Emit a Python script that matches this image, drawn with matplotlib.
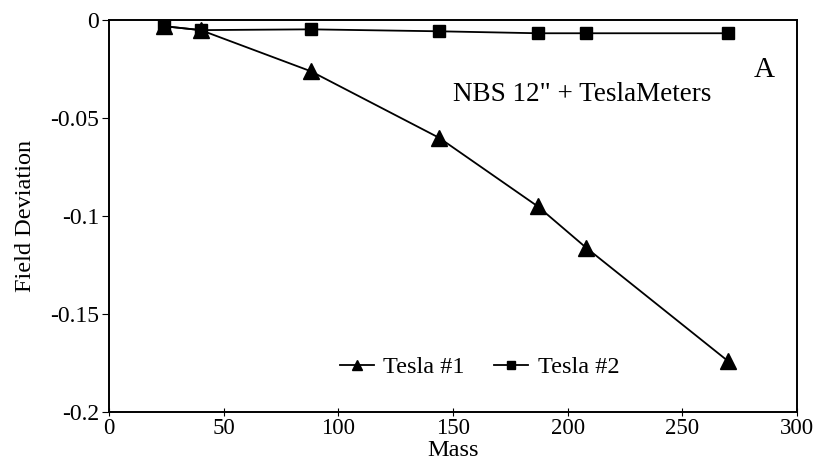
import matplotlib
matplotlib.use("Agg")
import matplotlib.pyplot as plt

# mass points and field deviation for the two teslameters
mass = [24, 40, 88, 144, 187, 208, 270]
tesla1 = [-0.003, -0.005, -0.026, -0.060, -0.095, -0.116, -0.174]
tesla2 = [-0.003, -0.005, -0.0046, -0.0056, -0.0066, -0.0066, -0.0066]
xticks = [0, 50, 100, 150, 200, 250, 300]
yticks = [0, -0.05, -0.1, -0.15, -0.2]
ytick_labels = ["0", "-0.05", "-0.1", "-0.15", "-0.2"]

plt.rcParams["font.family"] = ["Liberation Serif", "DejaVu Serif"]

fig = plt.figure(figsize=(8.14, 4.62), dpi=100)
ax = fig.add_axes([0.134, 0.108, 0.845, 0.848])

ax.plot(mass, tesla1, color="black", lw=1.3, marker="^", ms=11,
        mfc="black", mec="black", label="Tesla #1", zorder=2)
ax.plot(mass, tesla2, color="black", lw=1.3, marker="s", ms=8.5,
        mfc="black", mec="black", label="Tesla #2", zorder=3)

ax.set_xlim(0, 300)
ax.set_ylim(-0.2, 0)
ax.set_xticks(xticks)
ax.set_yticks(yticks)
ax.set_yticklabels(ytick_labels)
ax.tick_params(axis="x", direction="inout", length=6, labelsize=16.5, pad=1)
ax.tick_params(axis="y", direction="out", length=5, labelsize=17, pad=2)
for sp in ax.spines.values():
    sp.set_linewidth(1.4)

ax.set_xlabel("Mass", fontsize=17.5, labelpad=1)
ax.set_ylabel("Field Deviation", fontsize=17.5, labelpad=10)

ax.text(150, -0.0377, "NBS 12\" + TeslaMeters", fontsize=19.5, ha="left", va="center")
ax.text(285.6, -0.0255, "A", fontsize=21, ha="center", va="center")

ax.legend(loc="center", bbox_to_anchor=(161.6, -0.177), bbox_transform=ax.transData,
          ncol=2, frameon=False, fontsize=17.5, handlelength=1.4, handletextpad=0.4,
          columnspacing=1.2, markerscale=0.7)

fig.savefig("out.png", dpi=100)
